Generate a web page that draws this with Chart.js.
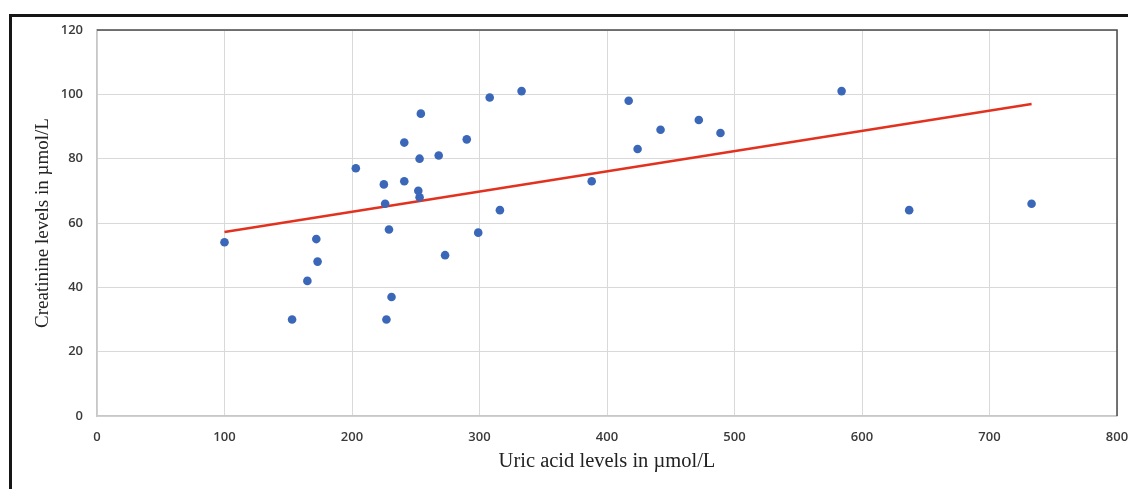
<!DOCTYPE html>
<html>
<head>
<meta charset="utf-8">
<script src="https://cdn.jsdelivr.net/npm/chart.js@4.4.1/dist/chart.umd.min.js"></script>
<style>
  html, body { margin: 0; padding: 0; background: #fff; }
  #wrap { position: relative; width: 1128px; height: 489px; }
  #frame {
    position: absolute; left: 9px; top: 14px; right: 0; bottom: 0;
    border-left: 3px solid #161616; border-top: 3px solid #161616;
    pointer-events: none;
  }
</style>
</head>
<body>
<div id="wrap">
  <canvas id="chart" width="1128" height="489"></canvas>
  <div id="frame"></div>
</div>
<script>
// uric acid (x) and creatinine (y) readings
const uricAcid = [
  100, 153, 165, 173, 172, 203, 225, 226, 229, 227, 231,
  241, 241, 252, 253, 253, 254, 268, 273, 290, 299, 308,
  316, 333, 388, 417, 424, 442, 472, 489, 584, 637, 733
];
const creatinine = [
  54, 30, 42, 48, 55, 77, 72, 66, 58, 30, 37,
  85, 73, 70, 68, 80, 94, 81, 50, 86, 57, 99,
  64, 101, 73, 98, 83, 89, 92, 88, 101, 64, 66
];
// linear trend line, end points
const trendX = [100, 733];
const trendY = [57.2, 97];

const xTicks = [0, 100, 200, 300, 400, 500, 600, 700, 800];
const yTicks = [0, 20, 40, 60, 80, 100, 120];

const points = uricAcid.map((v, i) => ({ x: v, y: creatinine[i] }));
const trend = trendX.map((v, i) => ({ x: v, y: trendY[i] }));

const frameLines = {
  id: "frameLines",
  afterDatasetsDraw(chart) {
    const { ctx, chartArea: a } = chart;
    ctx.save();
    ctx.strokeStyle = "#4a4a4a";
    ctx.lineWidth = 1.5;
    ctx.beginPath();
    ctx.moveTo(a.left, a.top);
    ctx.lineTo(a.right, a.top);
    ctx.lineTo(a.right, a.bottom);
    ctx.stroke();
    ctx.restore();
  },
};

const tickFont = { family: "'Open Sans', sans-serif", size: 13, weight: "600" };

new Chart(document.getElementById("chart"), {
  type: "scatter",
  data: {
    datasets: [
      {
        data: trend,
        showLine: true,
        borderColor: "#e2321f",
        borderWidth: 2.5,
        pointRadius: 0,
        order: 2,
      },
      {
        data: points,
        backgroundColor: "#3b67b8",
        borderColor: "#3b67b8",
        pointRadius: 4.3,
        borderWidth: 0,
        order: 1,
      },
    ],
  },
  options: {
    responsive: false,
    animation: false,
    layout: { padding: { left: 32, top: 30, right: 11, bottom: 0 } },
    scales: {
      x: {
        type: "linear",
        min: 0,
        max: 800,
        afterBuildTicks: (s) => { s.ticks = xTicks.map((v) => ({ value: v })); },
        afterFit: (s) => {
          s.height = 73;
          s.paddingLeft = 0;
          s.paddingRight = 0;
        },
        ticks: { color: "#3a3a3a", font: tickFont, padding: 13 },
        grid: { color: "#d9d9d9", lineWidth: 1, drawTicks: false },
        border: { color: "#c8c8c8", width: 1.5 },
        title: {
          display: true,
          text: "Uric acid levels in µmol/L",
          color: "#222",
          font: { family: "'Liberation Serif', serif", size: 20.5 },
          padding: { top: 4, bottom: 15 },
        },
      },
      y: {
        type: "linear",
        min: 0,
        max: 120,
        afterBuildTicks: (s) => { s.ticks = yTicks.map((v) => ({ value: v })); },
        afterFit: (s) => { s.width = 65; },
        ticks: { color: "#3a3a3a", font: tickFont, padding: 14 },
        grid: { color: "#d9d9d9", lineWidth: 1, drawTicks: false },
        border: { color: "#c8c8c8", width: 1.5 },
        title: {
          display: true,
          text: "Creatinine levels in µmol/L",
          color: "#222",
          font: { family: "'Liberation Serif', serif", size: 19 },
          padding: { top: 0, bottom: 4 },
        },
      },
    },
    plugins: {
      legend: { display: false },
      tooltip: { enabled: false },
    },
  },
  plugins: [frameLines],
});
</script>
</body>
</html>
